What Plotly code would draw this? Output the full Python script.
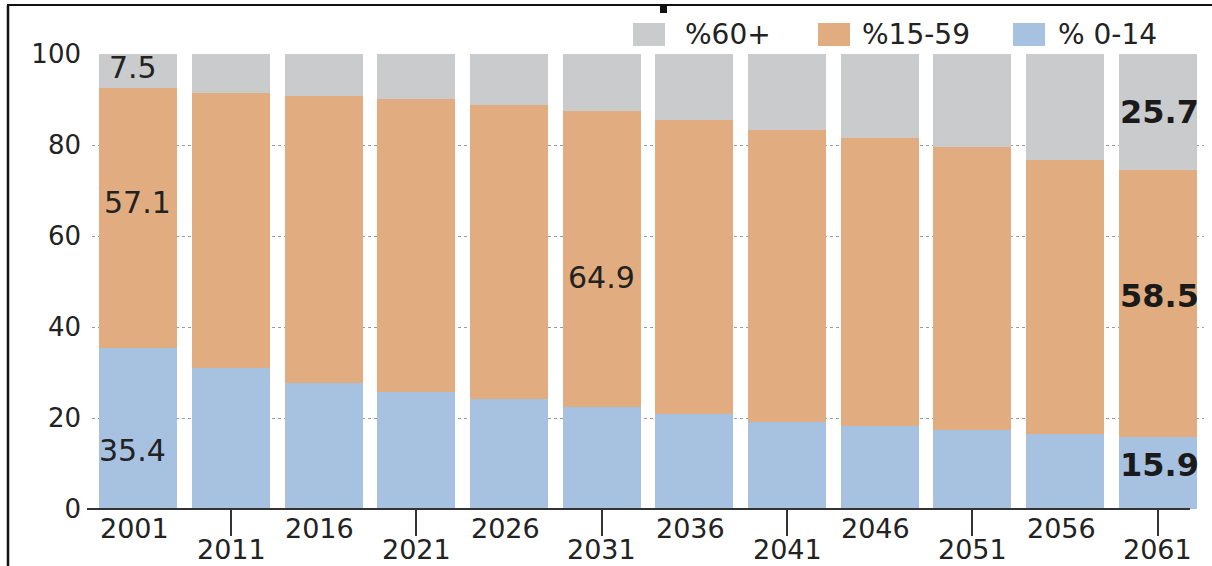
import plotly.graph_objects as go

# ---------------- data ----------------
years = ["2001", "2011", "2016", "2021", "2026", "2031",
         "2036", "2041", "2046", "2051", "2056", "2061"]
age_0_14 = [35.4, 31.1, 27.8, 25.8, 24.2, 22.5, 20.9, 19.1, 18.2, 17.4, 16.5, 15.9]
age_15_59 = [57.1, 60.3, 63.0, 64.3, 64.6, 64.9, 64.7, 64.3, 63.4, 62.1, 60.2, 58.5]
age_60 = [7.5, 8.6, 9.2, 9.9, 11.2, 12.6, 14.4, 16.6, 18.4, 20.5, 23.3, 25.7]
series_names = ["% 0-14", "%15-59", "%60+"]
y_ticks = [0, 20, 40, 60, 80, 100]

# ---------------- style ----------------
C_BLUE = "#A7C2E0"
C_ORANGE = "#E1AD80"
C_GRAY = "#C9CBCD"
TXT = "#222222"
FONT = "DejaVu Sans"

W, H = 1212, 566
ML, MR, MT, MB = 92, 8, 54, 57
PW, PH = W - ML - MR, H - MT - MB


def px_x(p):
    return (p - ML) / PW


def px_y(p):
    return (H - MB - p) / PH


fig = go.Figure()
for vals, col, name in [(age_0_14, C_BLUE, series_names[0]),
                        (age_15_59, C_ORANGE, series_names[1]),
                        (age_60, C_GRAY, series_names[2])]:
    fig.add_trace(go.Bar(x=years, y=vals, name=name, marker=dict(color=col, line=dict(width=0)),
                         showlegend=False, hoverinfo="x+y+name"))

annotations = []
# regular data labels (first year and 2031)
regular = [
    (0, 97.1, f"{age_60[0]}", -5),
    (0, 67.3, f"{age_15_59[0]}", -1),
    (0, 12.8, f"{age_0_14[0]}", -6),
    (5, 50.8, f"{age_15_59[5]}", 0),
]
for i, y, t, xs in regular:
    annotations.append(dict(x=i, y=y, xref="x", yref="y", text=t, showarrow=False,
                            xanchor="center", yanchor="middle", xshift=xs,
                            font=dict(family=FONT, size=30, color=TXT)))
last = len(years) - 1
bold = [
    (last, 87.3, f"{age_60[-1]}"),
    (last, 46.8, f"{age_15_59[-1]}"),
    (last, 9.7, f"{age_0_14[-1]}"),
]
for i, y, t in bold:
    annotations.append(dict(x=i, y=y, xref="x", yref="y", text=f"<b>{t}</b>", showarrow=False,
                            xanchor="center", yanchor="middle", xshift=2,
                            font=dict(family=FONT, size=32, color="#1a1a1a")))

# year labels, alternating rows
for i, yr in enumerate(years):
    annotations.append(dict(x=i, y=0, xref="x", yref="paper", text=yr, showarrow=False,
                            xanchor="center", yanchor="top",
                            yshift=(-2 if i % 2 == 0 else -23), xshift=(-4 if i % 2 == 0 else 0),
                            font=dict(family=FONT, size=27, color=TXT)))

# legend (manual)
legend_items = [(series_names[2], C_GRAY, 633, 683),
                (series_names[1], C_ORANGE, 818, 860),
                (series_names[0], C_BLUE, 1013, 1056)]
shapes = []
for name, col, sx, tx in legend_items:
    shapes.append(dict(type="rect", xref="paper", yref="paper",
                       x0=px_x(sx), x1=px_x(sx + 32), y0=px_y(46), y1=px_y(23),
                       fillcolor=col, line=dict(width=0), layer="above"))
    annotations.append(dict(x=px_x(tx), y=px_y(35), xref="paper", yref="paper", text=name,
                            showarrow=False, xanchor="left", yanchor="middle",
                            font=dict(family=FONT, size=28, color=TXT)))

# baseline
shapes.append(dict(type="line", xref="paper", yref="paper", x0=px_x(87), x1=px_x(1190),
                   y0=0, y1=0, line=dict(color="#333333", width=2), layer="above"))
# frame lines (top and left) and a small title fragment mark
shapes.append(dict(type="line", xref="paper", yref="paper", x0=px_x(7), x1=px_x(1212),
                   y0=px_y(5), y1=px_y(5), line=dict(color="#111111", width=2)))
shapes.append(dict(type="line", xref="paper", yref="paper", x0=px_x(8), x1=px_x(8),
                   y0=px_y(5), y1=px_y(566), line=dict(color="#111111", width=2.5)))
shapes.append(dict(type="rect", xref="paper", yref="paper", x0=px_x(660), x1=px_x(667),
                   y0=px_y(13), y1=px_y(6), fillcolor="#111111", line=dict(width=0)))

fig.update_layout(
    width=W, height=H,
    margin=dict(l=ML, r=MR, t=MT, b=MB, pad=0),
    barmode="stack", bargap=0.158,
    plot_bgcolor="white", paper_bgcolor="white",
    showlegend=False,
    annotations=annotations, shapes=shapes,
    xaxis=dict(type="category", categoryorder="array", categoryarray=years,
               range=[-0.5, len(years) - 0.5], automargin=False,
               tickvals=years[1::2], showticklabels=False,
               ticks="outside", ticklen=26, tickwidth=2, tickcolor="#333333",
               showline=False, showgrid=False, zeroline=False),
    yaxis=dict(range=[0, 100], tickvals=y_ticks, ticktext=[str(v) for v in y_ticks],
               automargin=False,
               showgrid=True, gridcolor="#9a9a9a", griddash="dot", gridwidth=1,
               zeroline=False, showline=False, ticks="", ticklabelstandoff=10,
               tickfont=dict(family=FONT, size=26, color=TXT)),
)

fig.write_html("out.html")
